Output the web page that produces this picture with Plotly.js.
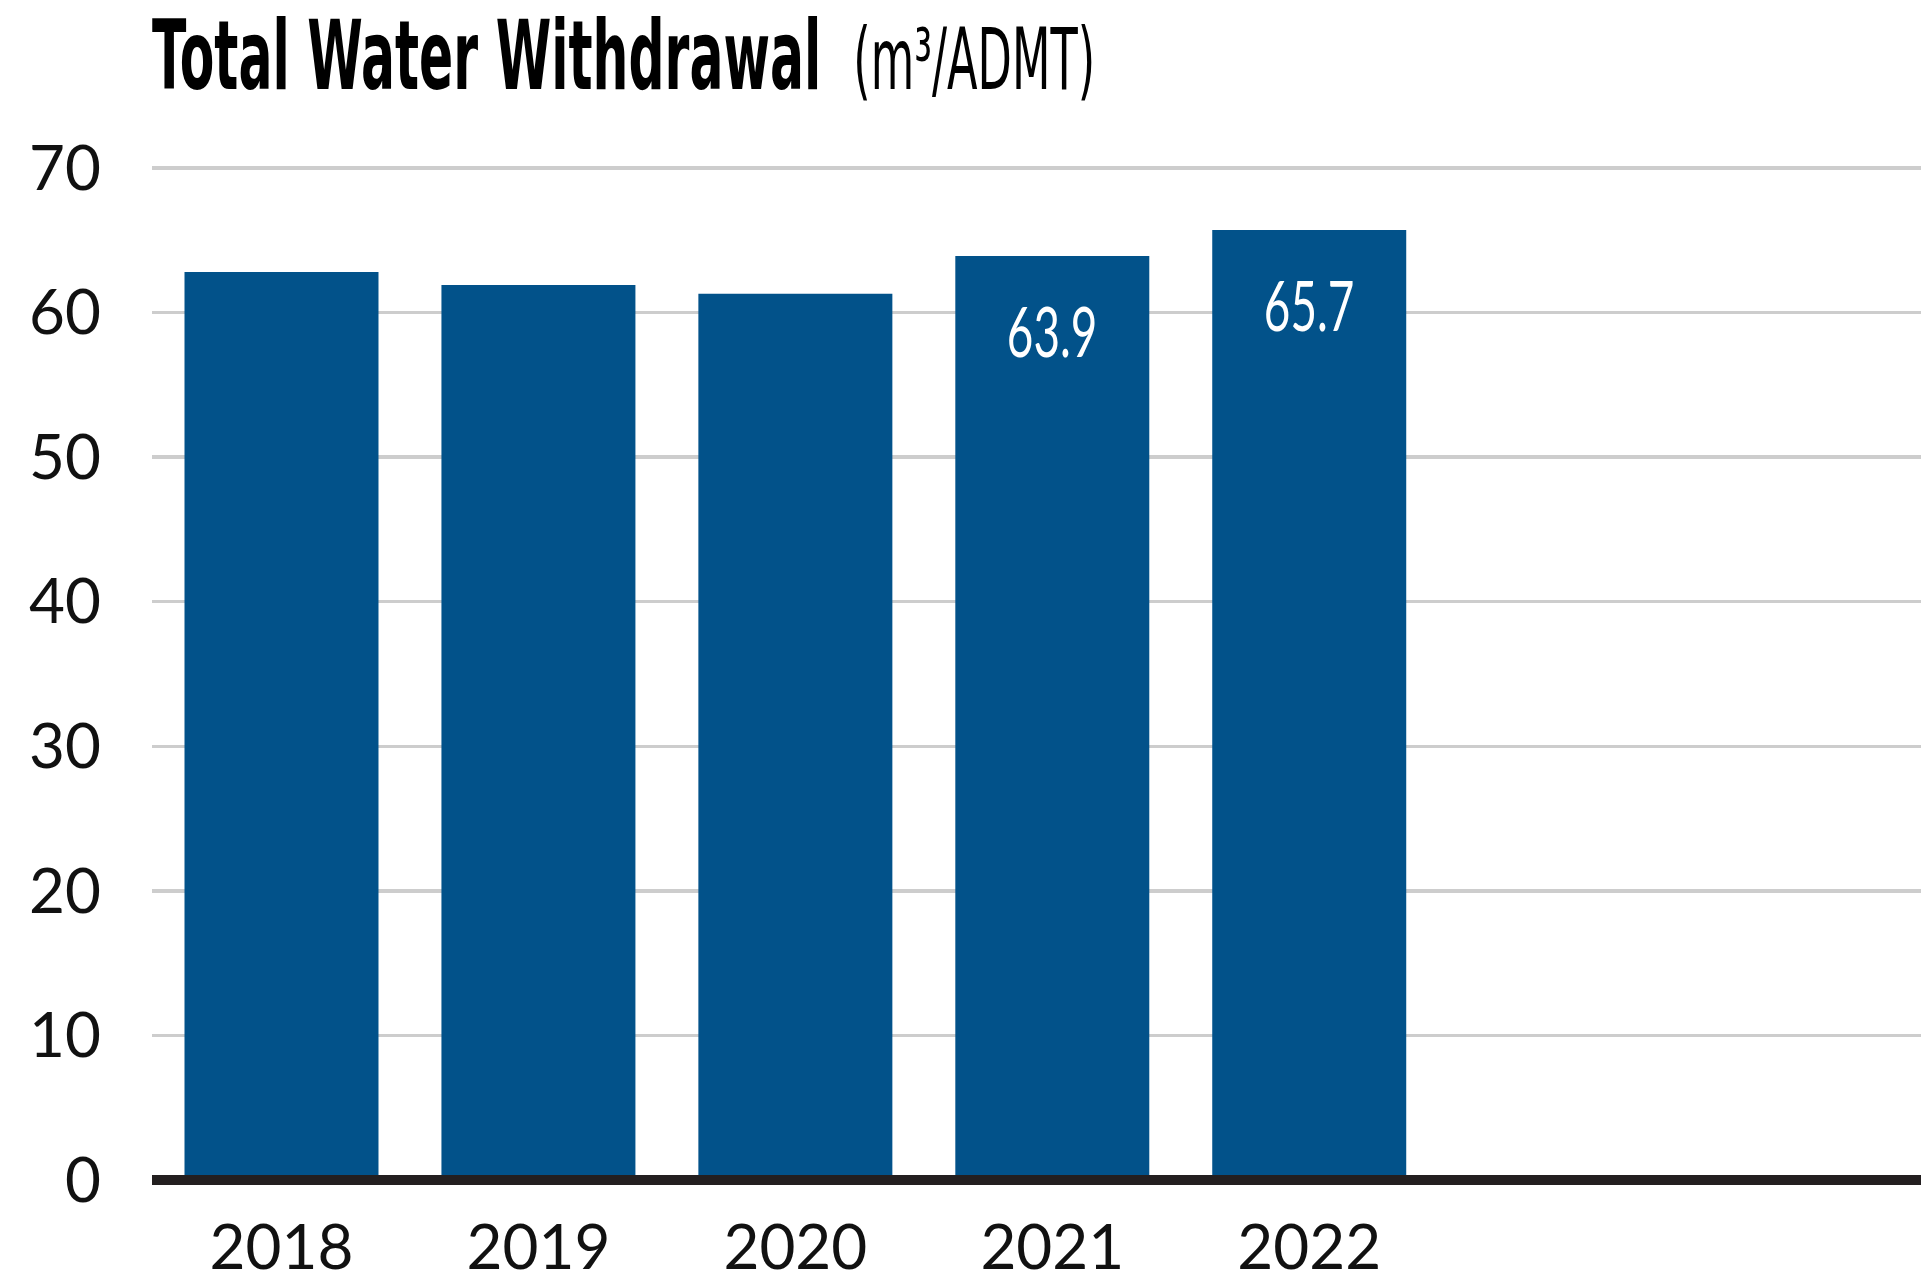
<!DOCTYPE html>
<html>
<head>
<meta charset="utf-8">
<script src="https://cdn.plot.ly/plotly-3.0.1.min.js"></script>
<style>
  html, body { margin: 0; padding: 0; background: #ffffff; }
  #chart { width: 1921px; height: 1281px; }
  /* condensed look of the original typeface */
  #chart .gtitle {
    transform-box: fill-box; transform-origin: 0% 50%;
    transform: scaleX(0.525);
  }
  #chart .annotation-text {
    transform-box: fill-box; transform-origin: 50% 50%;
    transform: scaleX(0.655);
  }
</style>
</head>
<body>
<div id="chart"></div>
<script>
// ---- data ----
const years = ["2018", "2019", "2020", "2021", "2022"];
const withdrawal = [62.8, 61.9, 61.3, 63.9, 65.7];
const valueLabels = ["", "", "", "63.9", "65.7"];
const yTicks = [0, 10, 20, 30, 40, 50, 60, 70];

const BAR_COLOR = "#02528a";
const AXIS_COLOR = "#231f20";
const GRID_COLOR = "#cdcdcd";
const TICK_FONT = "Lato, 'Noto Sans', sans-serif";
const TITLE_FONT = "'DejaVu Sans', sans-serif";

const trace = {
  type: "bar",
  x: years,
  y: withdrawal,
  marker: { color: BAR_COLOR, line: { width: 0 } },
  hoverinfo: "skip"
};

const annotations = [];
years.forEach((yr, i) => {
  if (valueLabels[i]) {
    annotations.push({
      x: i, y: withdrawal[i], xref: "x", yref: "y",
      text: valueLabels[i], showarrow: false, textangle: 0,
      yanchor: "top", xanchor: "center", yshift: -30,
      font: { family: TICK_FONT, size: 70, color: "#ffffff" }
    });
  }
});

const layout = {
  width: 1921, height: 1281,
  margin: { l: 152, r: 0, t: 139, b: 101, pad: 0 },
  paper_bgcolor: "#ffffff", plot_bgcolor: "#ffffff",
  showlegend: false,
  bargap: 0.245,
  title: {
    text: "<b>Total Water Withdrawal</b>  <span style='font-size:85px'>(m³/ADMT)</span>",
    font: { family: TITLE_FONT, size: 96, color: "#000000" },
    xref: "container", yref: "container",
    x: 152 / 1921, xanchor: "left",
    y: 1 - 55 / 1281, yanchor: "middle"
  },
  xaxis: {
    type: "category",
    range: [-0.504, 6.381],
    showgrid: false, zeroline: false, showline: false,
    ticks: "", ticklabelstandoff: 26,
    tickfont: { family: TICK_FONT, size: 62, color: "#111111" }
  },
  yaxis: {
    range: [0, 72],
    tickvals: yTicks,
    ticktext: yTicks.map(String),
    showgrid: true, gridcolor: GRID_COLOR, gridwidth: 3.5,
    zeroline: false, showline: false,
    ticks: "", ticklabelstandoff: 50,
    tickfont: { family: TICK_FONT, size: 62, color: "#111111" }
  },
  shapes: [{
    type: "rect", xref: "paper", yref: "paper",
    x0: 0, x1: 1,
    ysizemode: "pixel", yanchor: 0, y0: -5, y1: 5,
    fillcolor: AXIS_COLOR, line: { width: 0 }, layer: "above"
  }],
  annotations: annotations
};

Plotly.newPlot("chart", [trace], layout, { staticPlot: true, displayModeBar: false });
</script>
</body>
</html>
